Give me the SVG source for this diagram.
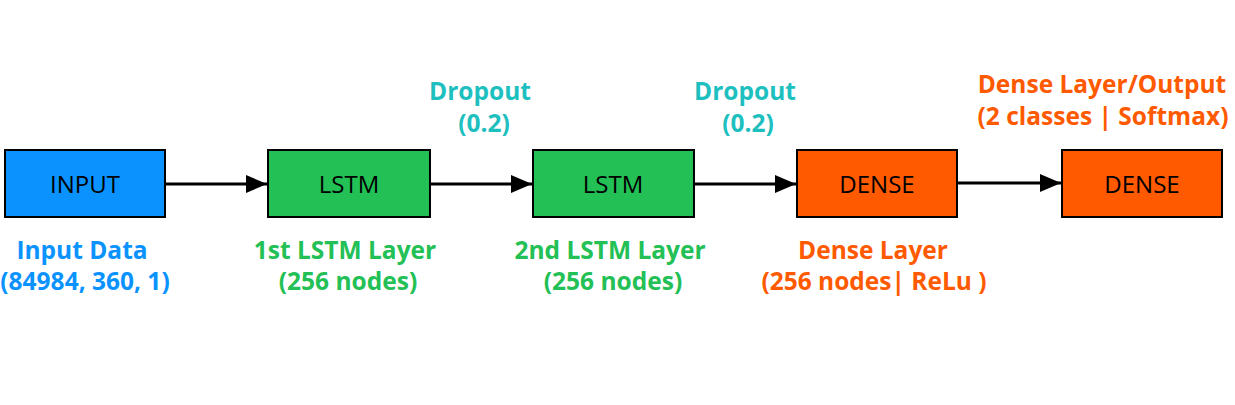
<svg xmlns="http://www.w3.org/2000/svg" width="1235" height="405" viewBox="0 0 1235 405">
<defs>
<style>
.box{stroke:#000;stroke-width:2}
.nt{font-family:"Open Sans",sans-serif;font-size:24px;text-anchor:middle;fill:#000}
.lb{font-family:"Open Sans",sans-serif;font-size:24.5px;font-weight:bold;text-anchor:middle}
.conn{stroke:#000;stroke-width:3;fill:none;marker-end:url(#arr)}
</style>
<marker id="arr" markerWidth="7" markerHeight="6" refX="7" refY="3" orient="auto" markerUnits="strokeWidth">
<path d="M0,0 L7,3 L0,6 Z" fill="#000"/>
</marker>
</defs>
<rect width="1235" height="405" fill="#fff"/>
<g id="connectors">
<line class="conn" x1="166" y1="184" x2="267" y2="184"/>
<line class="conn" x1="431" y1="184" x2="532" y2="184"/>
<line class="conn" x1="695" y1="184" x2="796" y2="184"/>
<line class="conn" x1="958" y1="183" x2="1061" y2="183"/>
</g>
<g id="input">
<rect class="box" x="5" y="150" width="160" height="67" fill="#0A93FF"/>
<text class="nt" x="85" y="193">INPUT</text>
<text class="lb" x="82" y="259" fill="#0A93FF">Input Data</text>
<text class="lb" x="85" y="290" fill="#0A93FF">(84984, 360, 1)</text>
</g>
<g id="lstm1">
<rect class="box" x="268" y="150" width="162" height="67" fill="#22C055"/>
<text class="nt" x="349" y="193">LSTM</text>
<text class="lb" x="345" y="259" fill="#22C055">1st LSTM Layer</text>
<text class="lb" x="348" y="290" fill="#22C055">(256 nodes)</text>
</g>
<g id="dropout1">
<text class="lb" x="480" y="100" fill="#1DBFBF">Dropout</text>
<text class="lb" x="484" y="132" fill="#1DBFBF">(0.2)</text>
</g>
<g id="lstm2">
<rect class="box" x="533" y="150" width="161" height="67" fill="#22C055"/>
<text class="nt" x="613" y="193">LSTM</text>
<text class="lb" x="610" y="259" fill="#22C055">2nd LSTM Layer</text>
<text class="lb" x="613" y="290" fill="#22C055">(256 nodes)</text>
</g>
<g id="dropout2">
<text class="lb" x="745" y="100" fill="#1DBFBF">Dropout</text>
<text class="lb" x="748" y="132" fill="#1DBFBF">(0.2)</text>
</g>
<g id="dense1">
<rect class="box" x="797" y="150" width="160" height="67" fill="#FF5A00"/>
<text class="nt" x="877" y="193">DENSE</text>
<text class="lb" x="873" y="259" fill="#FF5A00">Dense Layer</text>
<text class="lb" x="874" y="290" fill="#FF5A00">(256 nodes| ReLu )</text>
</g>
<g id="dense2">
<rect class="box" x="1062" y="150" width="160" height="67" fill="#FF5A00"/>
<text class="nt" x="1142" y="193">DENSE</text>
<text class="lb" x="1102" y="93" fill="#FF5A00">Dense Layer/Output</text>
<text class="lb" x="1103" y="125" fill="#FF5A00">(2 classes | Softmax)</text>
</g>
</svg>
